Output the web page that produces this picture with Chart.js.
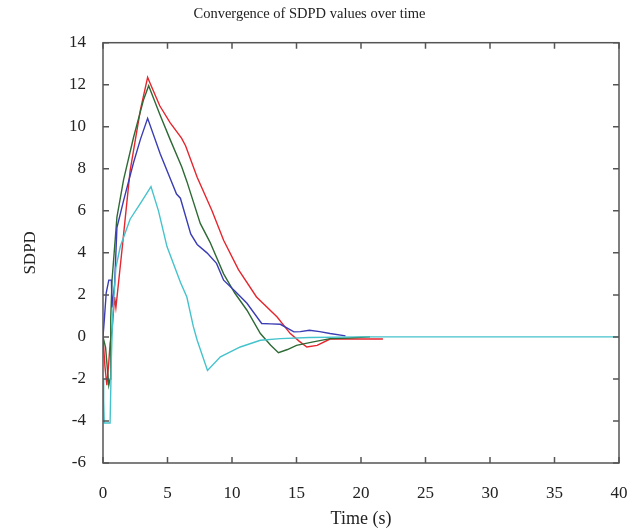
<!DOCTYPE html>
<html>
<head>
<meta charset="utf-8">
<script src="https://cdn.jsdelivr.net/npm/chart.js@4.4.0/dist/chart.umd.min.js"></script>
<style>
  html, body { margin: 0; padding: 0; background: #fff; }
  #wrap { width: 627px; height: 530px; }
</style>
</head>
<body>
<div id="wrap"><canvas id="chart" width="627" height="530"></canvas></div>
<script>
// values
const redT = [0, 0.15, 0.3, 0.45, 0.55, 0.7, 0.9, 1.0, 1.5, 2.1, 2.9, 3.46, 3.7, 4.4, 5.2, 6.1, 6.4, 7.3, 8.45, 9.35, 10.5, 11.9, 13.5, 14.5, 15.2, 15.8, 16.6, 17.6, 19.5, 21.7];
const redV = [0, -1.4, -2.3, -1.2, -0.3, 0.3, 1.9, 1.4, 4.3, 7.9, 10.8, 12.35, 12.0, 11.0, 10.2, 9.45, 9.1, 7.6, 6.0, 4.6, 3.2, 1.9, 0.95, 0.17, -0.2, -0.48, -0.4, -0.1, -0.1, -0.1];

const greenT = [0, 0.2, 0.35, 0.45, 0.55, 0.6, 0.7, 1.08, 1.6, 2.37, 3.15, 3.54, 4.4, 5.2, 6.1, 6.5, 7.54, 8.3, 9.35, 10.2, 11.16, 12.2, 13.0, 13.6, 14.3, 15.0, 16.2, 17.6, 19.0, 20.7];
const greenV = [0, -0.5, -1.6, -2.3, -2.0, 0.9, 2.7, 5.7, 7.5, 9.5, 11.3, 11.95, 10.6, 9.4, 8.1, 7.4, 5.4, 4.5, 3.0, 2.1, 1.27, 0.16, -0.4, -0.75, -0.6, -0.4, -0.25, -0.08, -0.05, 0];

const blueT = [0, 0.1, 0.25, 0.45, 0.65, 0.7, 0.9, 1.08, 1.6, 2.37, 2.9, 3.46, 4.44, 5.7, 6.0, 6.8, 7.3, 8.06, 8.8, 9.35, 10.2, 11.16, 12.3, 13.0, 13.75, 14.8, 15.3, 16.0, 16.8, 17.6, 18.8];
const blueV = [0, 0.8, 2.1, 2.7, 2.7, 1.4, 2.5, 5.2, 6.5, 8.3, 9.4, 10.4, 8.7, 6.8, 6.6, 4.9, 4.4, 4.0, 3.5, 2.7, 2.2, 1.6, 0.64, 0.62, 0.6, 0.24, 0.25, 0.32, 0.25, 0.16, 0.05];

const cyanT = [0, 0.05, 0.1, 0.55, 0.65, 0.75, 1.0, 1.34, 2.1, 2.9, 3.72, 4.3, 4.96, 6.0, 6.5, 7.0, 7.3, 8.1, 9.1, 10.64, 12.2, 13.75, 16, 20, 25, 30, 35, 40];
const cyanV = [-2.0, -3.0, -4.1, -4.1, -1.0, 1.0, 3.3, 4.3, 5.6, 6.35, 7.15, 6.0, 4.3, 2.6, 1.9, 0.5, -0.16, -1.6, -0.95, -0.48, -0.16, -0.08, -0.03, 0, 0, 0, 0, 0];

const xTicks = [0, 5, 10, 15, 20, 25, 30, 35, 40];
const yTicks = [-6, -4, -2, 0, 2, 4, 6, 8, 10, 12, 14];

const toPoints = (ts, vs) => ts.map((t, i) => ({ x: t, y: vs[i] }));

const serif = '"Liberation Serif", "Times New Roman", serif';

// inward tick marks on all four sides plus the box
const boxTicks = {
  id: 'boxTicks',
  afterDatasetsDraw(chart) {
    const { ctx, chartArea: a, scales } = chart;
    ctx.save();
    ctx.strokeStyle = '#555';
    ctx.lineWidth = 1.5;
    ctx.strokeRect(a.left, a.top, a.right - a.left, a.bottom - a.top);
    ctx.beginPath();
    xTicks.forEach(v => {
      const px = scales.x.getPixelForValue(v);
      ctx.moveTo(px, a.bottom); ctx.lineTo(px, a.bottom - 6);
      ctx.moveTo(px, a.top); ctx.lineTo(px, a.top + 6);
    });
    yTicks.forEach(v => {
      const py = scales.y.getPixelForValue(v);
      ctx.moveTo(a.left, py); ctx.lineTo(a.left + 6, py);
      ctx.moveTo(a.right, py); ctx.lineTo(a.right - 6, py);
    });
    ctx.stroke();
    ctx.restore();
  }
};

const mk = (label, ts, vs, color) => ({
  label: label,
  data: toPoints(ts, vs),
  borderColor: color,
  backgroundColor: color,
  borderWidth: 1.4,
  pointRadius: 0,
  tension: 0,
  showLine: true,
});

new Chart(document.getElementById('chart').getContext('2d'), {
  type: 'scatter',
  data: {
    datasets: [
      mk('cyan', cyanT, cyanV, '#45c3cc'),
      mk('blue', blueT, blueV, '#3b3db5'),
      mk('green', greenT, greenV, '#2e6a35'),
      mk('red', redT, redV, '#e5262e'),
    ],
  },
  plugins: [boxTicks],
  options: {
    responsive: false,
    animation: false,
    layout: { padding: { left: 0, right: 8, top: 0, bottom: 0 } },
    plugins: {
      legend: { display: false },
      tooltip: { enabled: false },
      title: {
        display: true,
        text: 'Convergence of SDPD values over time',
        color: '#222',
        font: { family: serif, size: 14.5, weight: 'normal' },
        padding: { top: 5, bottom: 20.3 },
      },
    },
    scales: {
      x: {
        type: 'linear',
        min: 0,
        max: 40,
        afterBuildTicks: (s) => { s.ticks = xTicks.map(v => ({ value: v })); },
        afterFit: (s) => { s.height = 67; s.paddingLeft = 0; s.paddingRight = 0; },
        grid: { display: false, drawTicks: false },
        border: { display: false },
        ticks: { color: '#222', padding: 20, font: { family: serif, size: 17 }, maxRotation: 0 },
        title: { display: true, text: 'Time (s)', color: '#222', font: { family: serif, size: 18 }, padding: { top: 0, bottom: 0 } },
      },
      y: {
        type: 'linear',
        min: -6,
        max: 14,
        afterBuildTicks: (s) => { s.ticks = yTicks.map(v => ({ value: v })); },
        afterFit: (s) => { s.width = 103; s.paddingTop = 0; s.paddingBottom = 0; },
        grid: { display: false, drawTicks: false },
        border: { display: false },
        ticks: { color: '#222', padding: 17, font: { family: serif, size: 17 } },
        title: { display: true, text: 'SDPD', color: '#222', font: { family: serif, size: 17 }, padding: { top: 20, bottom: 10 } },
      },
    },
  },
});
</script>
</body>
</html>
